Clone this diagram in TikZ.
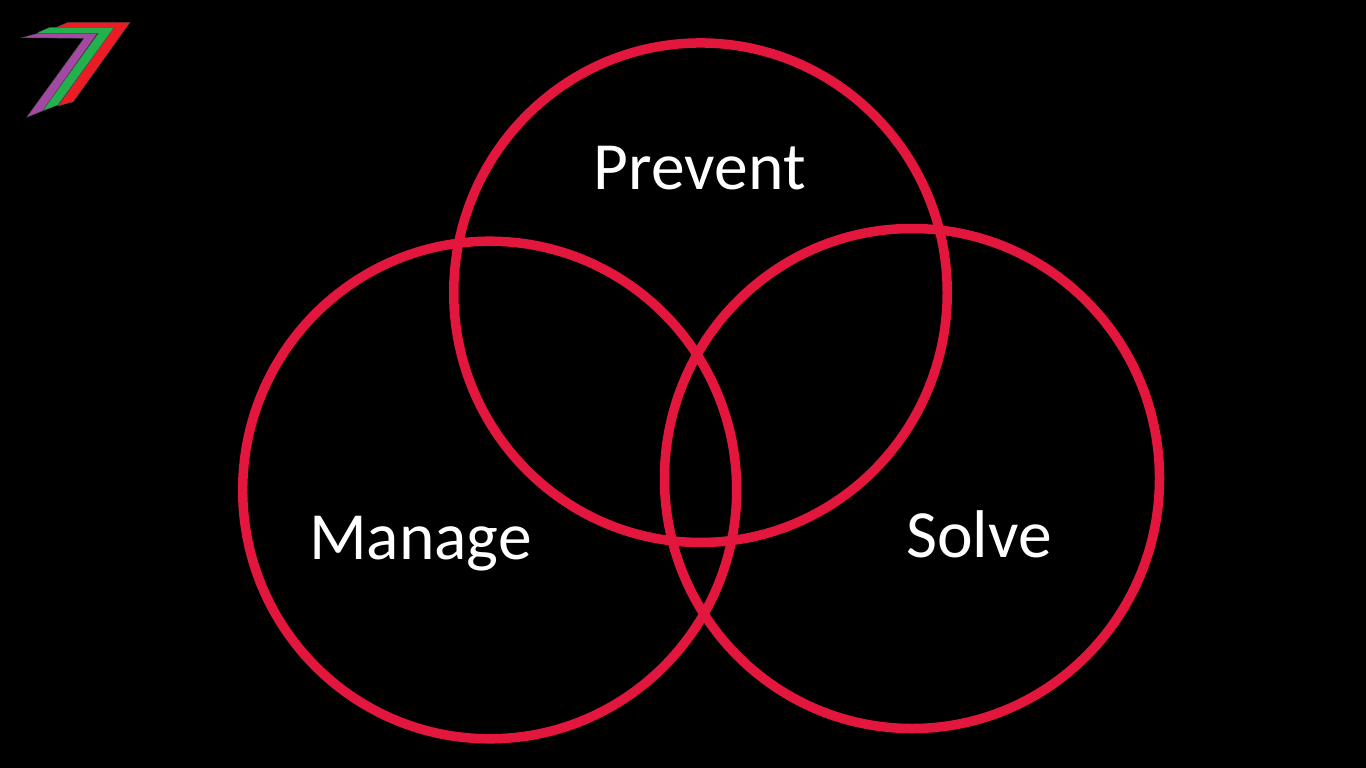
\documentclass[tikz,border=0pt]{standalone}
\usepackage{fontspec}
\setmainfont{Carlito}
\usetikzlibrary{shapes.geometric}
\definecolor{ringred}{HTML}{E3173E}
\definecolor{logored}{HTML}{ED1C24}
\definecolor{logogreen}{HTML}{22B14C}
\definecolor{logopurple}{HTML}{A349A4}
\tikzset{
  ring/.style={ellipse,draw=ringred,line width=9.5pt,inner sep=0pt},
  word/.style={text=white,font=\fontsize{67.5}{80}\selectfont,inner sep=0pt,anchor=base},
  logopart/.style={draw=black!70,line width=0.4pt}
}
\begin{document}
\begin{tikzpicture}[x=1pt,y=-1pt]
  \fill[black] (0,0) rectangle (1366,768);
  \useasboundingbox (0,0) rectangle (1366,768);

  \foreach \name/\x/\y/\w/\h in {prevent/700.5/292.7/493.5/499.5,manage/489.7/490/494/497.6,solve/912/478.5/495/500}
    {\node[ring,minimum width=\w pt,minimum height=\h pt] (\name) at (\x,\y) {};}

  \node[word] (preventlabel) at (699.8,189.3) {Prevent};
  \node[word] (managelabel) at (420.5,559) {Manage};
  \node[word] (solvelabel) at (979,557.3) {Solve};

  % logo
  \fill[logored,logopart] (68.3,22.3)--(130,22.3)--(73.3,101.7)--(58,106)--(114,27.5)--(56,27.5)--cycle;
  \fill[logogreen,logopart] (38.3,32.3)--(50,27.3)--(114.3,27.3)--(58,105)--(42.3,111)--(98.3,33.3)--(38,33.3)--cycle;
  \fill[logopurple,logopart] (21.7,37.7)--(38.3,33.3)--(97.3,33.3)--(42.3,111)--(26.7,117.3)--(84,38.3)--cycle;
\end{tikzpicture}
\end{document}
